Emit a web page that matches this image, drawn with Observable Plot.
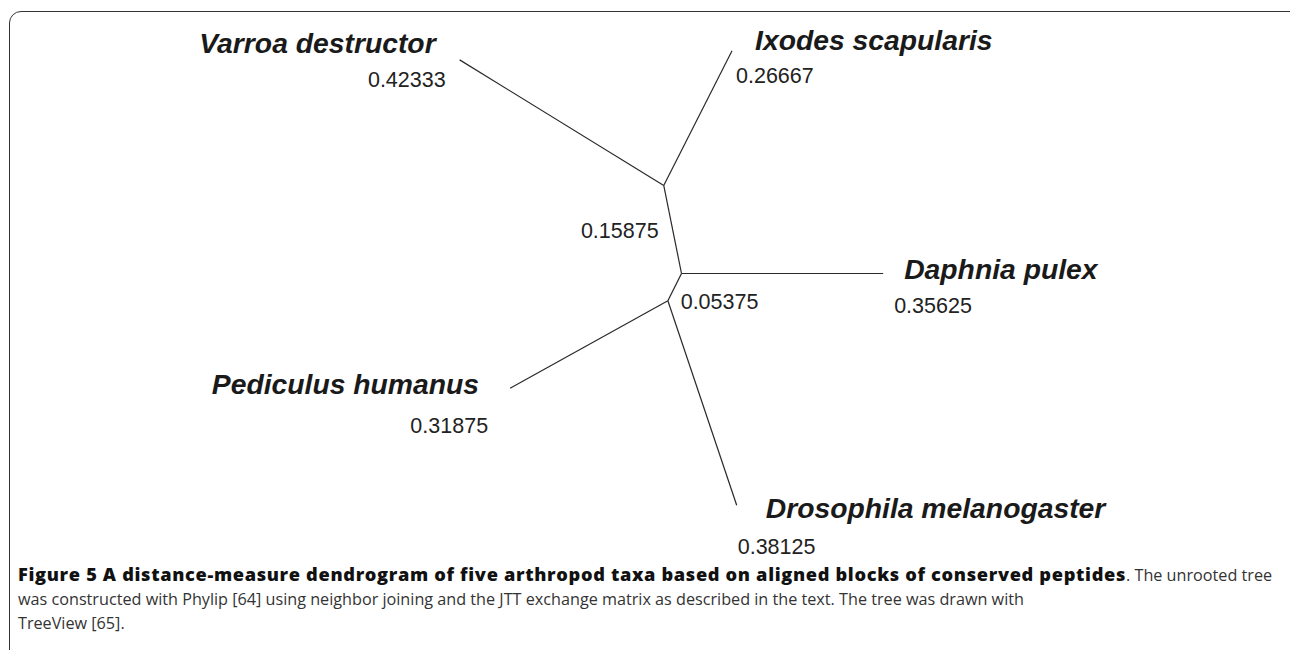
<!DOCTYPE html>
<html>
<head>
<meta charset="utf-8">
<script src="https://cdn.jsdelivr.net/npm/d3@7"></script>
<script src="https://cdn.jsdelivr.net/npm/@observablehq/plot@0.6"></script>
<style>
  html, body { margin: 0; padding: 0; background: #fff; width: 1290px; height: 650px; overflow: hidden; }
  #frame { position: absolute; left: 9px; top: 11px; width: 1300px; height: 700px;
           border: 1.3px solid #333; border-radius: 12px 12px 0 0; box-sizing: border-box; }
  #chart { position: absolute; left: 0; top: 0; }
  #caption { position: absolute; left: 18px; top: 562px; width: 1252px;
             font-family: "Open Sans", sans-serif; font-size: 16.2px; line-height: 24px; color: #333; }
  #caption div { white-space: nowrap; }
  #caption b { color: #111; font-size: 18.2px; font-weight: 800; }
</style>
</head>
<body>
<div id="frame"></div>
<div id="chart"></div>
<div id="caption">
  <div class="l1"><b id="bold">Figure 5 A distance-measure dendrogram of five arthropod taxa based on aligned blocks of conserved peptides</b>. The unrooted tree</div>
  <div>was constructed with Phylip [64] using neighbor joining and the JTT exchange matrix as described in the text. The tree was drawn with</div>
  <div>TreeView [65].</div>
</div>
<script>
// ---- data ----
const taxa = ["Varroa destructor", "Ixodes scapularis", "Daphnia pulex", "Pediculus humanus", "Drosophila melanogaster"];
const leafLengths = [0.42333, 0.26667, 0.35625, 0.31875, 0.38125];
const leafParents = ["A", "A", "B", "C", "C"];
const leafAngles = [148.4, 63.1, 0, 209, 288.6];          // branch direction, degrees
const innerNodes = ["A", "C"];
const innerParents = ["B", "B"];
const innerLengths = [0.15875, 0.05375];
const innerAngles = [101.4, 243.4];

// ---- label placement (pixel offsets from tips / branch midpoints) ----
const leafLabelStyle = [
  {anchor: "end",   dx: -24, dy: -16, ndx: -14, ndy: 20},
  {anchor: "start", dx: 23,  dy: -10, ndx: 4,   ndy: 25},
  {anchor: "start", dx: 21,  dy: -4,  ndx: 11,  ndy: 33},
  {anchor: "end",   dx: -31, dy: -3,  ndx: -22, ndy: 38},
  {anchor: "start", dx: 29,  dy: 4,   ndx: 1,   ndy: 42}
];
const innerLabelStyle = [
  {anchor: "end",   dx: -14, dy: 2},
  {anchor: "start", dx: 6,   dy: 15}
];

// ---- layout: unrooted tree from branch lengths and angles ----
const pos = {B: {x: 0, y: 0}};
const rad = d => d * Math.PI / 180;
const edges = [];
innerNodes.forEach((n, i) => {
  const p = pos[innerParents[i]];
  pos[n] = {x: p.x + innerLengths[i] * Math.cos(rad(innerAngles[i])), y: p.y + innerLengths[i] * Math.sin(rad(innerAngles[i]))};
  edges.push({x1: p.x, y1: p.y, x2: pos[n].x, y2: pos[n].y, len: innerLengths[i], kind: "inner", i});
});
taxa.forEach((t, i) => {
  const p = pos[leafParents[i]];
  const q = {x: p.x + leafLengths[i] * Math.cos(rad(leafAngles[i])), y: p.y + leafLengths[i] * Math.sin(rad(leafAngles[i]))};
  pos[t] = q;
  edges.push({x1: p.x, y1: p.y, x2: q.x, y2: q.y, len: leafLengths[i], kind: "leaf", i, name: t});
});
const leafEdges = edges.filter(e => e.kind === "leaf");
const innerEdges = edges.filter(e => e.kind === "inner");

// equal-unit scales: 566 px per unit of distance
const W = 1290, H = 556, k = 566, ox = 681, oy = 273;
const xDomain = [-ox / k, (W - ox) / k];
const yDomain = [-(H - oy) / k, oy / k];

const labelFont = "'Liberation Sans', Arial, sans-serif";
const marks = [
  Plot.link(edges, {x1: "x1", y1: "y1", x2: "x2", y2: "y2", stroke: "#2a2a2a", strokeWidth: 1.2})
];
leafEdges.forEach(e => {
  const s = leafLabelStyle[e.i];
  marks.push(Plot.text([e], {x: "x2", y: "y2", text: "name", textAnchor: s.anchor, dx: s.dx, dy: s.dy,
    fontSize: 28.3, fontWeight: "bold", fontStyle: "italic", fill: "#1a1a1a", fontFamily: labelFont}));
  marks.push(Plot.text([e], {x: "x2", y: "y2", text: d => d.len.toFixed(5), textAnchor: s.anchor, dx: s.ndx, dy: s.ndy,
    fontSize: 21.5, fill: "#222", fontFamily: labelFont}));
});
innerEdges.forEach(e => {
  const s = innerLabelStyle[e.i];
  marks.push(Plot.text([e], {x: d => (d.x1 + d.x2) / 2, y: d => (d.y1 + d.y2) / 2, text: d => d.len.toFixed(5),
    textAnchor: s.anchor, dx: s.dx, dy: s.dy, fontSize: 21.5, fill: "#222", fontFamily: labelFont}));
});

const chart = Plot.plot({
  width: W, height: H,
  margin: 0,
  x: {domain: xDomain, axis: null},
  y: {domain: yDomain, axis: null},
  style: {background: "transparent", overflow: "visible"},
  marks
});
document.getElementById("chart").appendChild(chart);

// widen the bold caption lead-in to span the same width as in the reference
const bold = document.getElementById("bold");
const natural = bold.getBoundingClientRect().width;
const targetWidth = 1108;
const nChars = bold.textContent.length;
bold.style.letterSpacing = Math.max(0, (targetWidth - natural) / nChars) + "px";
</script>
</body>
</html>
